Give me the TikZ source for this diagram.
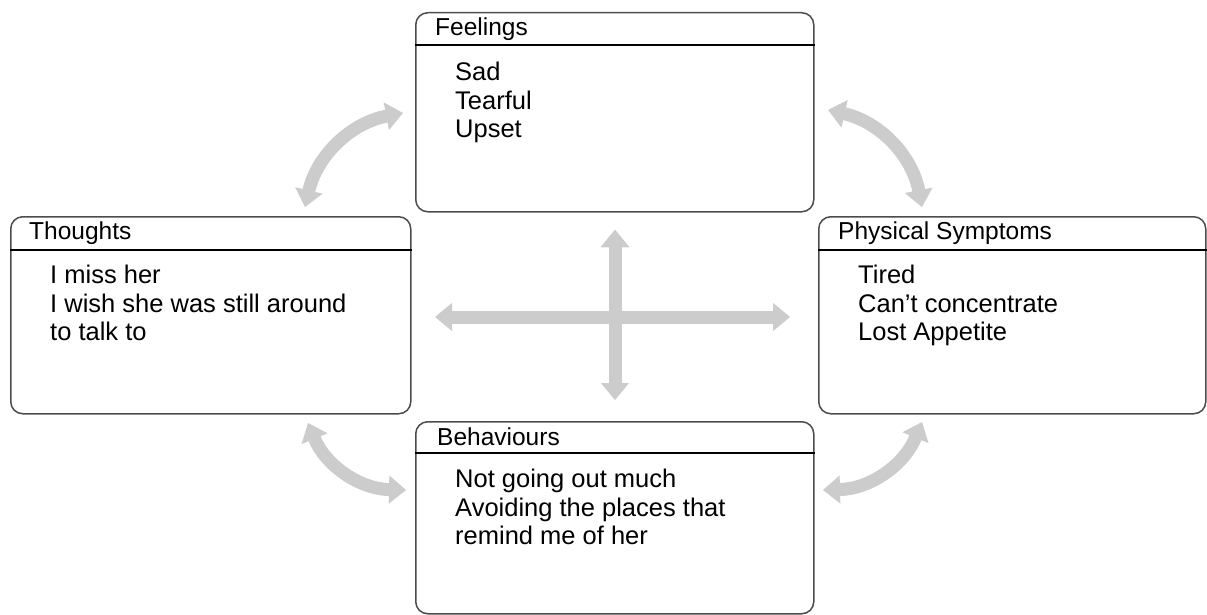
\documentclass[tikz,border=0pt]{standalone}
\usepackage{fontspec}
\setmainfont{Liberation Sans}
\usetikzlibrary{arrows.meta}

\begin{document}
\begin{tikzpicture}[x=1pt,y=-1pt,
    panel/.style={draw=black!70,line width=1.5pt,rounded corners=12pt,anchor=north west,inner sep=0pt},
    heading/.style={anchor=west,inner sep=0pt,font=\fontsize{24.5}{28}\selectfont},
    body/.style={anchor=north west,inner sep=0pt,align=left,font=\fontsize{25.5}{28.5}\selectfont},
    rule/.style={draw=black,line width=1.2pt},
    link/.style={draw,color=gray!40,line width=13pt,{Triangle[width=28pt,length=17pt,line width=1pt]}-{Triangle[width=28pt,length=17pt,line width=1pt]}}]
        \useasboundingbox (0,0) rectangle (1207,615);
        % the four boxes
        \node[panel,minimum width=398pt,minimum height=199pt] (feel) at (415,12) {};
        \node[panel,minimum width=400pt,minimum height=197pt] (thought) at (10,216) {};
        \node[panel,minimum width=387pt,minimum height=197pt] (phys) at (818,216) {};
        \node[panel,minimum width=398pt,minimum height=192pt] (behav) at (415,421) {};
        \draw[rule] ([yshift=-33pt]feel.north west) -- ([yshift=-33pt]feel.north east);
        \draw[rule] ([yshift=-34pt]thought.north west) -- ([yshift=-34pt]thought.north east);
        \draw[rule] ([yshift=-34pt]phys.north west) -- ([yshift=-34pt]phys.north east);
        \draw[rule] ([yshift=-32pt]behav.north west) -- ([yshift=-32pt]behav.north east);
        % headings
        \node[heading] (feelT) at (435,29) {Feelings};
        \node[heading] (thoughtT) at (29,233) {Thoughts};
        \node[heading] (physT) at (838,233) {Physical Symptoms};
        \node[heading] (behavT) at (437,437) {Behaviours};
        % contents
        \node[body] (feelB) at (455,62) {Sad\\Tearful\\Upset};
        \node[body] (thoughtB) at (50,265) {I miss her\\I wish she was still around\\to talk to};
        \node[body] (physB) at (858,265) {Tired\\Can’t concentrate\\Lost Appetite};
        \node[body] (behavB) at (455,469) {Not going out much\\Avoiding the places that\\remind me of her};
        % arrow ends
        \coordinate (a1) at (305,207);
        \coordinate (a2) at (403,113);
        \coordinate (b1) at (828,110);
        \coordinate (b2) at (922,207);
        \coordinate (c1) at (308,423);
        \coordinate (c2) at (406,490);
        \coordinate (d1) at (922,422);
        \coordinate (d2) at (823,490);
        \coordinate (left) at (435,317);
        \coordinate (right) at (790,317);
        \coordinate (top) at (615,230);
        \coordinate (bottom) at (615,400);
        \path[link]
          (a1) edge[bend left=33] (a2)
          (b1) edge[bend left=33] (b2)
          (c1) edge[bend right=33] (c2)
          (d1) edge[bend left=33] (d2)
          (left) edge (right)
          (top) edge (bottom);
      \end{tikzpicture}
\end{document}
